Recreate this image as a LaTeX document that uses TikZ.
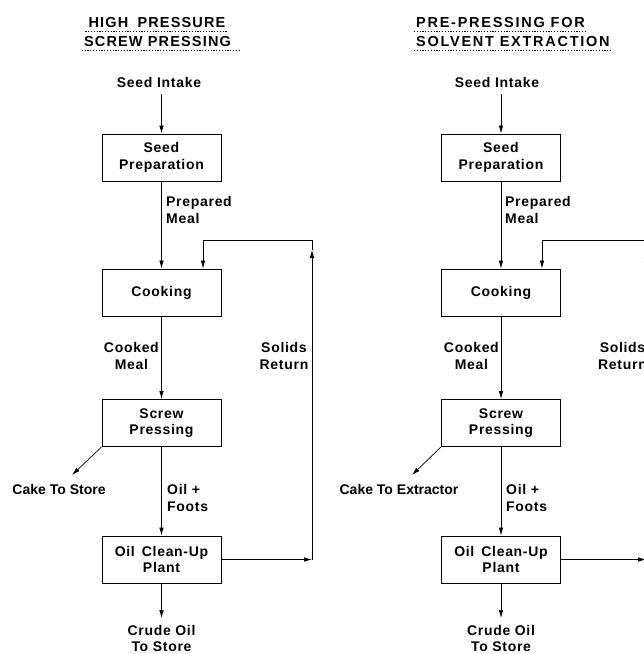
\documentclass[tikz,border=0pt]{standalone}
\usepackage{fontspec}
\setmainfont{Liberation Sans}
\newfontfamily\labfont{Liberation Sans}[LetterSpace=5]
\newfontfamily\titlefont{Liberation Sans}[LetterSpace=8]
\newfontfamily\titlefontwide{Liberation Sans}[LetterSpace=12]
\usetikzlibrary{arrows.meta,calc}
\begin{document}
\begin{tikzpicture}[x=1pt,y=-1pt,
 box/.style={draw,line width=0.9pt,minimum width=119pt,minimum height=47pt,align=center,inner sep=0pt,font=\labfont\bfseries\fontsize{14}{16.5}\selectfont},
 lab/.style={inner sep=0pt,font=\labfont\bfseries\fontsize{14}{16.5}\selectfont},
 plainlab/.style={inner sep=0pt,font=\bfseries\fontsize{14}{16.5}\selectfont},
 ttl/.style={inner sep=0pt,font=\titlefont\bfseries\fontsize{14.5}{19}\selectfont},
 ttlwide/.style={inner sep=0pt,font=\titlefontwide\bfseries\fontsize{14.5}{19}\selectfont},
 flow/.style={line width=0.7pt,-{Latex[length=8pt,width=4.5pt]}},
 ret/.style={line width=0.7pt},
 uline/.style={line width=0.8pt,dash pattern=on 1.2pt off 1.6pt}]
\useasboundingbox (0,0) rectangle (644,654);
\clip (0,0) rectangle (644,654);
% ---------------- left ----------------
\node[ttl] (t1a) at (157,23) {HIGH\hspace{4pt} PRESSURE};
\node[ttl] (t1b) at (157.5,42) {SCREW PRESSING};
\draw[uline] ([xshift=-3pt,yshift=-3pt]t1a.south west) -- ([xshift=2pt,yshift=-3pt]t1a.south east);
\draw[uline] ([xshift=-2pt,yshift=-3pt]t1b.south west) -- ([xshift=8pt,yshift=-3pt]t1b.south east);
\node[lab] (in1) at (159,82) {Seed Intake};
\node[box] (sp1) at (161.5,157.5) {Seed\\Preparation};
\node[box] (ck1) at (161.5,292.5) {Cooking};
\node[box] (sc1) at (161.5,423) {Screw\\Pressing};
\node[box] (oc1) at (161.5,559.5) {Oil\enspace Clean-Up\\Plant};
\node[lab,align=center,anchor=north] (co1) at (161.5,625) {Crude Oil\\To Store};
\node[plainlab] (ca1) at (59,489) {Cake To Store};
\coordinate (ce1) at (72,475);
\node[lab,align=left,anchor=west] (pm1) at (166,210) {Prepared\\Meal};
\node[lab,align=center,anchor=east] (cm1) at (159,356) {Cooked\\Meal};
\node[lab,align=center] (sr1) at (284,356) {Solids\\Return};
\node[lab,align=left,anchor=west] (of1) at (167,498) {Oil +\\Foots};
\draw[flow,shorten <=7pt] (sp1.north |- in1.south) -- (sp1.north);
\draw[flow] (sp1.south) -- (ck1.north);
\draw[flow] (ck1.south) -- (sc1.north);
\draw[flow] (sc1.south) -- (oc1.north);
\draw[flow,shorten >=7pt] (oc1.south) -- (co1.north);
\draw[flow] (sc1.south west) -- (ce1);
\coordinate (r1) at (312,559.5);
\coordinate (r2a) at (312,250);
\coordinate (r2) at (312,240);
\coordinate (r3) at (203,240);
\draw[flow] (oc1.east) -- (r1);
\draw[flow] (r1) -- (r2a);
\draw[ret] (r2a) -- (r2) -- (r3);
\draw[flow] (r3) -- (r3 |- ck1.north);
% ---------------- right ----------------
\node[ttlwide,anchor=west] (t2a) at (416,23) {PRE-PRESSING FOR};
\node[ttlwide,anchor=west] (t2b) at (416,42) {SOLVENT EXTRACTION};
\draw[uline] ([xshift=-2pt,yshift=-3pt]t2a.south west) -- ([xshift=2pt,yshift=-3pt]t2a.south east);
\draw[uline] ([xshift=-2pt,yshift=-3pt]t2b.south west) -- ([xshift=2pt,yshift=-3pt]t2b.south east);
\node[lab] (in2) at (497,82) {Seed Intake};
\node[box] (sp2) at (501,157.5) {Seed\\Preparation};
\node[box] (ck2) at (501,292.5) {Cooking};
\node[box] (sc2) at (501,423) {Screw\\Pressing};
\node[box] (oc2) at (501,559.5) {Oil\enspace Clean-Up\\Plant};
\node[lab,align=center,anchor=north] (co2) at (501,625) {Crude Oil\\To Store};
\node[plainlab] (ca2) at (399,489) {Cake To Extractor};
\coordinate (ce2) at (412,475);
\node[lab,align=left,anchor=west] (pm2) at (505,210) {Prepared\\Meal};
\node[lab,align=center,anchor=east] (cm2) at (499,356) {Cooked\\Meal};
\node[lab,align=center,anchor=west] (sr2) at (598,356) {Solids\\Return};
\node[lab,align=left,anchor=west] (of2) at (506,498) {Oil +\\Foots};
\draw[flow,shorten <=7pt] (sp2.north |- in2.south) -- (sp2.north);
\draw[flow] (sp2.south) -- (ck2.north);
\draw[flow] (ck2.south) -- (sc2.north);
\draw[flow] (sc2.south) -- (oc2.north);
\draw[flow,shorten >=7pt] (oc2.south) -- (co2.north);
\draw[flow] (sc2.south west) -- (ce2);
\coordinate (q1) at (646,559.5);
\coordinate (q2a) at (646,250);
\coordinate (q2) at (646,240);
\coordinate (q3) at (542,240);
\draw[flow] (oc2.east) -- (q1);
\draw[flow] (q1) -- (q2a);
\draw[ret] (q2a) -- (q2) -- (q3);
\draw[flow] (q3) -- (q3 |- ck2.north);
\end{tikzpicture}
\end{document}
